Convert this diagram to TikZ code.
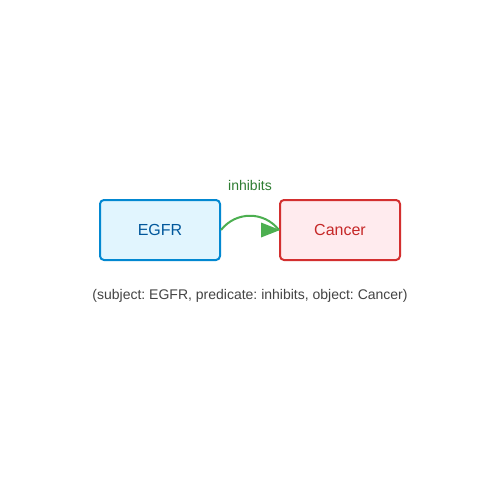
\documentclass[tikz,border=0pt]{standalone}
\usepackage{fontspec}
\setmainfont{Liberation Sans}
\usetikzlibrary{arrows.meta}
\definecolor{bluefill}{HTML}{E1F5FE}
\definecolor{blueline}{HTML}{0288D1}
\definecolor{bluetext}{HTML}{01579B}
\definecolor{redfill}{HTML}{FFEBEE}
\definecolor{redline}{HTML}{D32F2F}
\definecolor{redtext}{HTML}{C62828}
\definecolor{arrowgreen}{HTML}{4CAF50}
\definecolor{labelgreen}{HTML}{2E7D32}
\definecolor{captiongray}{HTML}{444444}
\tikzset{
  entity/.style={draw, line width=2pt, rounded corners=4pt, minimum width=120pt, minimum height=60pt, inner sep=0pt, font=\fontsize{16pt}{19pt}\selectfont},
  rel/.style={draw=arrowgreen, line width=2pt},
  relhead/.style={fill=arrowgreen, draw=none},
}
\begin{document}
\frenchspacing
\begin{tikzpicture}[x=1pt,y=-1pt]
\useasboundingbox[fill=white] (0,0) rectangle (500,500);
\node[entity, fill=bluefill, draw=blueline, text=bluetext] (egfr) at (160,230) {EGFR};
\node[entity, fill=redfill, draw=redline, text=redtext] (cancer) at (340,230) {Cancer};
\draw[rel] (egfr.east) .. controls +(15,-19) and +(-15,-19) .. (cancer.west);
\fill[relhead] ([xshift=1pt]cancer.west) -- ++(-19,-7.5) -- ++(0,15) -- cycle;
\node[text=labelgreen, font=\fontsize{14pt}{17pt}\selectfont] (lbl) at (250,185) {inhibits};
\node[text=captiongray, font=\fontsize{14pt}{17pt}\selectfont] (cap) at (250,295.5) {(subject: EGFR, predicate: inhibits, object: Cancer)};
\end{tikzpicture}
\end{document}
